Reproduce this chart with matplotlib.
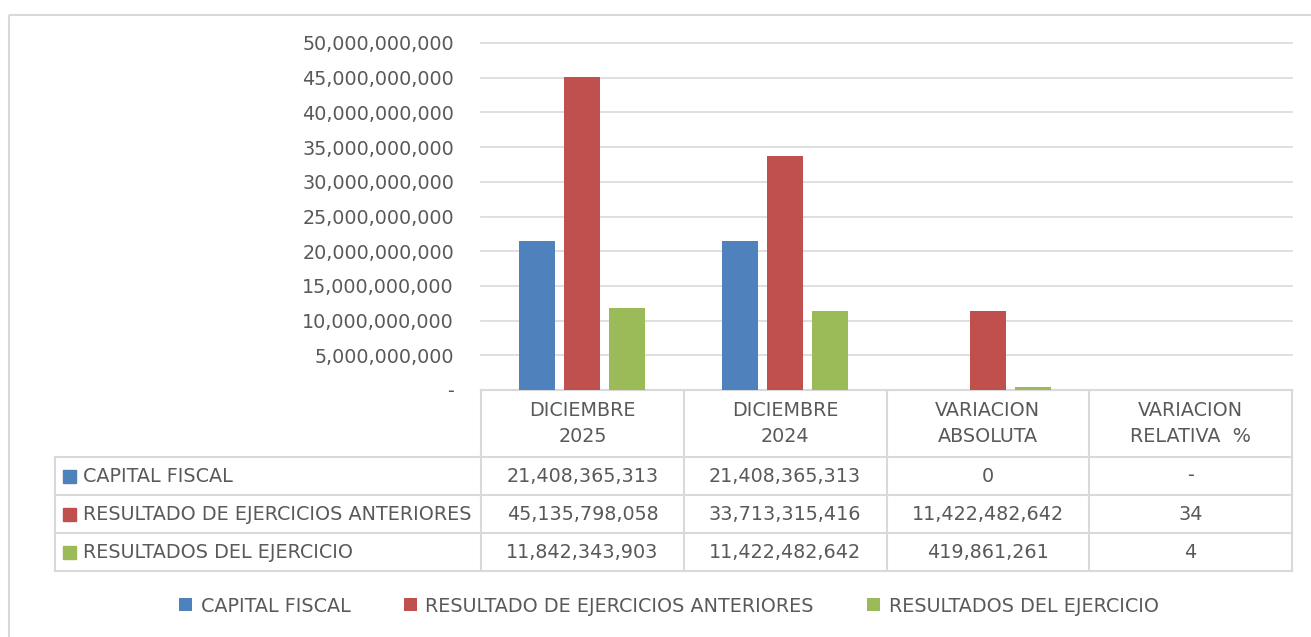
import matplotlib.pyplot as plt
from matplotlib.patches import Rectangle
import matplotlib.transforms as mtransforms
import numpy as np

plt.rcParams['font.family'] = 'DejaVu Sans'

periods = ['DICIEMBRE\n2025', 'DICIEMBRE\n2024', 'VARIACION\nABSOLUTA', 'VARIACION\nRELATIVA  %']
series = ['CAPITAL FISCAL', 'RESULTADO DE EJERCICIOS ANTERIORES', 'RESULTADOS DEL EJERCICIO']
capital = [21408365313, 21408365313, 0, 0]
resultado_ant = [45135798058, 33713315416, 11422482642, 34]
resultado_ej = [11842343903, 11422482642, 419861261, 4]
cell_text = [
    ['21,408,365,313', '21,408,365,313', '0', '-'],
    ['45,135,798,058', '33,713,315,416', '11,422,482,642', '34'],
    ['11,842,343,903', '11,422,482,642', '419,861,261', '4'],
]
colors = ['#4F81BD', '#C0504D', '#9BBB59']
txt = '#595959'
grid = '#D9D9D9'
fs = 13.75

W, H = 1311, 637
fig = plt.figure(figsize=(W / 100, H / 100), dpi=100)

# overlay in pixel coords for frame and data table
tab = fig.add_axes([0, 0, 1, 1])
tab.set_xlim(0, W)
tab.set_ylim(H, 0)
tab.axis('off')
tab.add_patch(Rectangle((9, 15), W + 100, H + 100, fill=False, edgecolor=grid, lw=1.5))

ax = fig.add_axes([481 / W, 1 - 390 / H, 811 / W, 347 / H])
x = np.arange(len(periods))
offs = [-0.222, 0, 0.222]
bars = []
for vals, off, c, name in zip([capital, resultado_ant, resultado_ej], offs, colors, series):
    bars.append(ax.bar(x + off, vals, width=0.177, color=c, label=name, zorder=3))

yt = np.arange(0, 50e9 + 1, 5e9)
ax.set_xlim(-0.5, len(periods) - 0.5)
ax.set_ylim(0, 50e9)
ax.set_yticks(yt)
ax.set_yticklabels(['-' if v == 0 else f'{v:,.0f}' for v in yt], fontsize=fs, color=txt)
ax.tick_params(axis='y', length=0, pad=19.5)
ax.set_xticks([])
ax.yaxis.grid(True, color=grid, lw=1.2, zorder=0)
for gl in ax.yaxis.get_gridlines():
    gl.set_clip_on(False)
for s in ['left', 'right', 'top']:
    ax.spines[s].set_visible(False)
ax.spines['bottom'].set_color(grid)
ax.spines['bottom'].set_linewidth(1.5)

# data table below the axis
tr = mtransforms.blended_transform_factory(ax.transData, tab.transData)
edges = np.arange(len(periods) + 1) - 0.5
row_y = [390, 457, 495, 533, 571]
for e in edges:
    tab.plot([e, e], [390, 571], color=grid, lw=1.5, transform=tr, clip_on=False)
tab.plot([55, 55], [457, 571], color=grid, lw=1.5)
tab.plot([-0.5, edges[-1]], [390, 390], color=grid, lw=1.5, transform=tr)
for yy in row_y[1:]:
    tab.plot([55, 481], [yy, yy], color=grid, lw=1.5)
    tab.plot([-0.5, edges[-1]], [yy, yy], color=grid, lw=1.5, transform=tr)

for i, p in enumerate(periods):
    tab.text(i, (row_y[0] + row_y[1]) / 2, p, transform=tr, ha='center', va='center',
             fontsize=fs, color=txt, linespacing=1.45)
for r, name in enumerate(series):
    yc = (row_y[r + 1] + row_y[r + 2]) / 2
    tab.add_patch(Rectangle((63, yc - 6.5), 13, 13, color=colors[r]))
    tab.text(83, yc, name, ha='left', va='center', fontsize=fs, color=txt)
    for i, t in enumerate(cell_text[r]):
        tab.text(i, yc, t, transform=tr, ha='center', va='center', fontsize=fs, color=txt)

leg = fig.legend(handles=bars, labels=series, loc='center', ncol=3,
                 bbox_to_anchor=(669 / W, 1 - 606 / H), frameon=False,
                 fontsize=fs, handlelength=0.68, handleheight=0.68,
                 handletextpad=0.45, columnspacing=2.8)
for t in leg.get_texts():
    t.set_color(txt)

fig.savefig('out.png', dpi=100)
